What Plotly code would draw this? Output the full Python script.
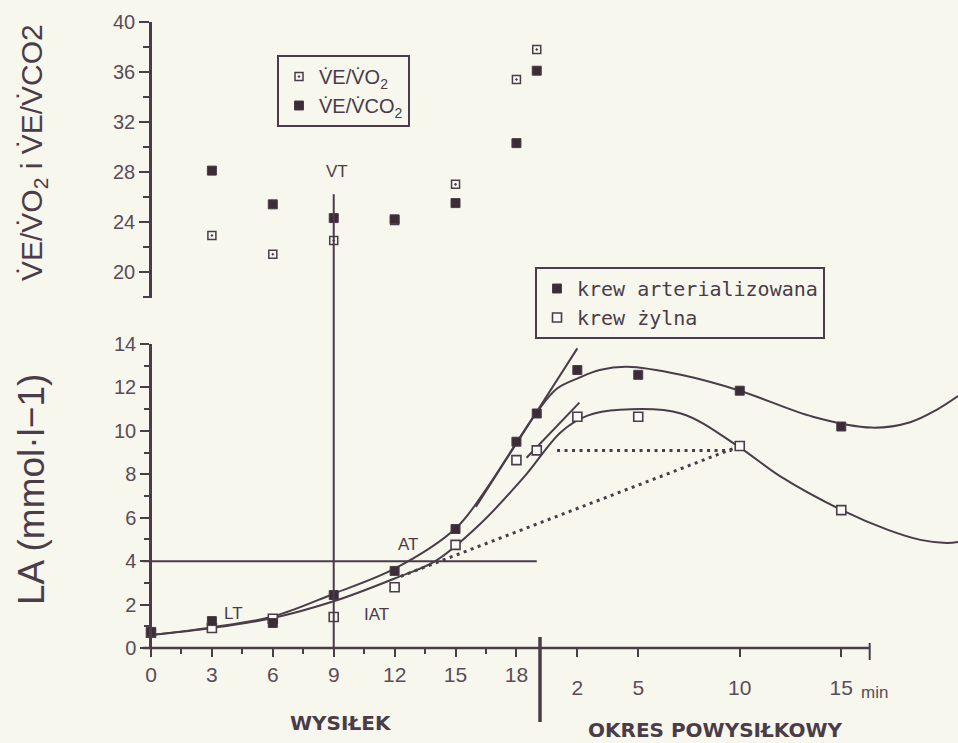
import plotly.graph_objects as go

# ---------------- data ----------------
# time axis: exercise minutes 0..19, recovery minute r plotted at 19 + r
ex_tick_vals = [0, 3, 6, 9, 12, 15, 18]
ex_tick_text = ["0", "3", "6", "9", "12", "15", "18"]
ex_minor_vals = [1.5, 4.5, 7.5, 10.5, 13.5, 16.5]
rec_tick_vals = [21, 24, 29, 34]
rec_tick_text = ["2", "5", "10", "15"]

# upper panel: ventilatory equivalents
t_vent = [3, 6, 9, 12, 15, 18, 19]
ve_vo2 = [22.9, 21.4, 22.5, 24.1, 27.0, 35.4, 37.8]
ve_vco2 = [28.1, 25.4, 24.3, 24.2, 25.5, 30.3, 36.1]

# lower panel: lactate (mmol/l)
t_la = [0, 3, 6, 9, 12, 15, 18, 19, 21, 24, 29, 34]
la_arterial = [0.74, 1.24, 1.15, 2.44, 3.55, 5.48, 9.5, 10.8, 12.8, 12.58, 11.85, 10.2]
la_venous = [0.7, 0.92, 1.35, 1.43, 2.8, 4.75, 8.65, 9.1, 10.65, 10.65, 9.3, 6.35]

# hand-drawn smooth curves (knots)
curve_art_x = [0, 3, 6, 9, 12, 15, 16.5, 18, 19, 20, 21.1, 22.1, 23.45, 26.1, 29, 32.6, 35.5, 37.4, 38.7, 39.75]
curve_art_y = [0.6, 0.95, 1.45, 2.5, 3.65, 5.5, 7.3, 9.45, 10.85, 11.95, 12.45, 12.8, 12.95, 12.58, 11.85, 10.65, 10.15, 10.4, 10.97, 11.6]
curve_ven_x = [0, 3, 6, 9, 12, 14, 16.2, 18.4, 20.2, 21.5, 23.1, 26.1, 28.9, 31, 34, 36.3, 37.9, 39.2, 39.75]
curve_ven_y = [0.6, 0.92, 1.38, 2.15, 3.2, 4.0, 5.7, 7.9, 9.95, 10.7, 10.97, 10.8, 9.3, 7.9, 6.36, 5.44, 4.98, 4.84, 4.88]

# tangents, dotted construction lines, 4 mmol/l level
tan_art_x = [16.0, 21.0]
tan_art_y = [6.5, 13.8]
tan_ven_x = [18.5, 21.1]
tan_ven_y = [8.76, 11.3]
dot_h_x = [20.0, 28.6]
dot_h_y = [9.1, 9.1]
dot_s_x = [12.3, 29.0]
dot_s_y = [3.3, 9.3]
level4_x = [-0.39, 19.0]
level4_y = [4, 4]
vt_time = 9
vt_top_value = 26.2

# ---------------- styling ----------------
W, H = 958, 743
INK = "#4a3c48"
FILL = "#3a2d36"
TXT = "#5a4c58"
BG = "#f7f7ee"
OPEN_FILL = "#fbfbf6"
SANS = "Liberation Sans, Arial, sans-serif"


def py(p):
    return 1 - p / H


def pxf(p):
    return p / W


x_dom = [pxf(143), 1.0]
x_range = [-0.394, 39.75]
y_dom = [py(648), py(344)]
y2_dom = [py(298), py(22)]

fig = go.Figure()

for xs, ys, shape in [
    (curve_art_x, curve_art_y, "spline"),
    (curve_ven_x, curve_ven_y, "spline"),
    (tan_art_x, tan_art_y, "linear"),
    (tan_ven_x, tan_ven_y, "linear"),
    (level4_x, level4_y, "linear"),
]:
    fig.add_trace(go.Scatter(x=xs, y=ys, mode="lines", line=dict(color=INK, width=2, shape=shape),
                             showlegend=False, hoverinfo="skip", xaxis="x", yaxis="y"))

for xs, ys in [(dot_h_x, dot_h_y), (dot_s_x, dot_s_y)]:
    fig.add_trace(go.Scatter(x=xs, y=ys, mode="lines",
                             line=dict(color=INK, width=3, dash="3px,4.5px"),
                             showlegend=False, hoverinfo="skip", xaxis="x", yaxis="y"))

# upper panel markers
fig.add_trace(go.Scatter(x=t_vent, y=ve_vo2, mode="markers", name="V̇E/V̇O<sub>2</sub>",
                         marker=dict(symbol="square-open-dot", size=8, color=INK, line=dict(width=1.5)),
                         xaxis="x", yaxis="y2", legend="legend", legendrank=1))
fig.add_trace(go.Scatter(x=t_vent, y=ve_vco2, mode="markers", name="V̇E/V̇CO<sub>2</sub>",
                         marker=dict(symbol="square", size=9, color=FILL, line=dict(color=INK, width=1)),
                         xaxis="x", yaxis="y2", legend="legend", legendrank=2))

# lower panel markers (on the overlaid exercise+recovery time scale)
fig.add_trace(go.Scatter(x=t_la, y=la_venous, mode="markers", name="krew żylna",
                         marker=dict(symbol="square", size=9, color=OPEN_FILL, line=dict(color=INK, width=1.6)),
                         xaxis="x2", yaxis="y", legend="legend2", legendrank=2))
fig.add_trace(go.Scatter(x=t_la, y=la_arterial, mode="markers", name="krew arterializowana",
                         marker=dict(symbol="square", size=9, color=FILL, line=dict(color=INK, width=1)),
                         xaxis="x2", yaxis="y", legend="legend2", legendrank=1))

tickfont = dict(family=SANS, size=21, color=TXT)

fig.update_layout(
    width=W, height=H, autosize=False,
    margin=dict(l=0, r=0, t=0, b=0, pad=0),
    paper_bgcolor=BG, plot_bgcolor=BG,
    template="none",
    xaxis=dict(domain=x_dom, range=x_range, anchor="y", showline=False, showgrid=False,
               zeroline=False, automargin=False,
               tickmode="array", tickvals=ex_tick_vals, ticktext=ex_tick_text,
               ticks="outside", ticklen=8, tickwidth=2, tickcolor=INK, tickfont=tickfont,
               minor=dict(tickmode="array", tickvals=ex_minor_vals, ticks="outside", ticklen=5,
                          tickwidth=1.5, tickcolor=INK, showgrid=False)),
    # recovery-time scale, sharing the same positions, labels set a bit lower
    xaxis2=dict(domain=x_dom, range=x_range, anchor="y", overlaying="x", side="bottom",
                showline=False, showgrid=False, zeroline=False, automargin=False,
                tickmode="array", tickvals=rec_tick_vals, ticktext=rec_tick_text,
                ticks="outside", ticklen=8, tickwidth=2, tickcolor=INK, tickfont=tickfont,
                ticklabelstandoff=13),
    yaxis=dict(domain=y_dom, range=[0, 14], anchor="free", position=pxf(150), showline=True,
               linecolor=INK, linewidth=2.5, showgrid=False, zeroline=False, automargin=False,
               tickmode="linear", tick0=0, dtick=2, ticks="outside", ticklen=9, tickwidth=2,
               tickcolor=INK, tickfont=dict(family=SANS, size=20, color=TXT),
               minor=dict(dtick=1, tick0=0, ticks="outside", ticklen=5, tickwidth=1.5, tickcolor=INK,
                          showgrid=False)),
    yaxis2=dict(domain=y2_dom, range=[17.9, 40], anchor="free", position=pxf(150), showline=True,
                linecolor=INK, linewidth=2.5, showgrid=False, zeroline=False, automargin=False,
                tickmode="linear", tick0=0, dtick=4, ticks="outside", ticklen=10, tickwidth=2,
                tickcolor=INK, tickfont=dict(family=SANS, size=20, color=TXT),
                minor=dict(dtick=2, tick0=0, ticks="outside", ticklen=6, tickwidth=1.5, tickcolor=INK,
                           showgrid=False)),
    legend=dict(x=pxf(277), y=py(55), xanchor="left", yanchor="top", bordercolor=INK, borderwidth=2,
                bgcolor="rgba(0,0,0,0)", font=dict(family=SANS, size=20, color=INK),
                traceorder="normal", itemwidth=30, tracegroupgap=0),
    legend2=dict(x=pxf(535), y=py(267), xanchor="left", yanchor="top", bordercolor=INK, borderwidth=2,
                 bgcolor="rgba(0,0,0,0)", font=dict(family="DejaVu Sans Mono, monospace", size=20, color=INK),
                 traceorder="normal", itemwidth=30, tracegroupgap=0),
    showlegend=True,
)

shapes = [
    # VT vertical line spanning both panels
    dict(type="line", xref="x", yref="paper", x0=vt_time, x1=vt_time, y0=y_dom[0],
         y1=y2_dom[0] + (vt_top_value - 17.9) / (40 - 17.9) * (y2_dom[1] - y2_dom[0]),
         line=dict(color=INK, width=2)),
    # time axis line (ends after 15 min of recovery)
    dict(type="line", xref="x", yref="paper", x0=-0.39, x1=35.4, y0=y_dom[0], y1=y_dom[0],
         line=dict(color=INK, width=2.5)),
    # end cap
    dict(type="line", xref="x", yref="paper", x0=35.4, x1=35.4, y0=py(660), y1=py(643),
         line=dict(color=INK, width=2)),
    # exercise / recovery divider
    dict(type="line", xref="paper", yref="paper", x0=pxf(540), x1=pxf(540), y0=py(722), y1=py(637),
         line=dict(color=INK, width=3.5)),
]
fig.update_layout(shapes=shapes)

ann = []
# axis titles
ann.append(dict(text="V̇E/V̇O<sub>2</sub> i V̇E/V̇CO2", xref="paper", yref="paper", x=pxf(33), y=py(153),
                textangle=-90, showarrow=False, font=dict(family=SANS, size=30, color=INK),
                xanchor="center", yanchor="middle"))
ann.append(dict(text="LA (mmol·l−1)", xref="paper", yref="paper", x=pxf(32), y=py(490),
                textangle=-90, showarrow=False, font=dict(family=SANS, size=37, color=INK),
                xanchor="center", yanchor="middle"))
# threshold labels
lab_font = dict(family=SANS, size=17, color=INK)
ann.append(dict(text="VT", xref="x", yref="y2", x=9.16, y=28.0, showarrow=False, font=lab_font))
ann.append(dict(text="AT", xref="x", yref="y", x=12.66, y=4.75, showarrow=False, font=lab_font))
ann.append(dict(text="LT", xref="x", yref="y", x=4.04, y=1.61, showarrow=False, font=lab_font))
ann.append(dict(text="IAT", xref="x", yref="y", x=11.13, y=1.52, showarrow=False, font=lab_font))
ann.append(dict(text="min", xref="paper", yref="paper", x=pxf(859), y=py(692), showarrow=False,
                font=dict(family=SANS, size=17, color=TXT), xanchor="left", yanchor="middle"))
# section labels
sec_font = dict(family="DejaVu Sans, sans-serif", size=20, color=INK, weight="bold")
ann.append(dict(text="WYSIŁEK", xref="paper", yref="paper", x=pxf(341), y=py(723), showarrow=False,
                font=sec_font, xanchor="center", yanchor="middle"))
ann.append(dict(text="OKRES POWYSIŁKOWY", xref="paper", yref="paper", x=pxf(715), y=py(730),
                showarrow=False, font=sec_font, xanchor="center", yanchor="middle"))
fig.update_layout(annotations=ann)

fig.write_html("out.html")
